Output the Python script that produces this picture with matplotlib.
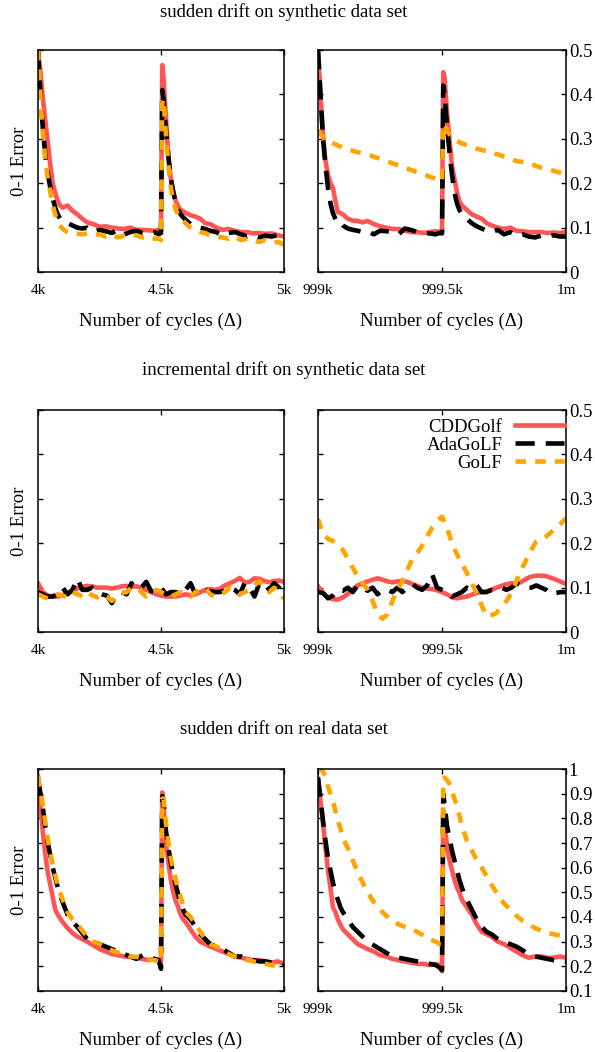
import matplotlib
matplotlib.use("Agg")
import matplotlib.pyplot as plt

plt.rcParams["font.family"] = ["Liberation Serif", "DejaVu Serif"]

# x positions (cycles after the window start)
grid_sudden = [0, 10, 20, 30, 40, 50, 60, 70, 80, 90, 100,
               120, 140, 160, 180, 200,
               225, 250, 275, 300, 325, 350, 375, 400, 425, 450, 475,
               490, 500, 505, 510,
               520, 530, 540, 550, 560, 570, 580, 590, 600,
               620, 640, 660, 680, 700,
               725, 750, 775, 800, 825, 850, 875, 900, 925, 950, 975, 1000]
grid_incr = list(range(0, 1001, 20))

methods = ["CDDGolf", "AdaGoLF", "GoLF"]
xtick_left = ["4k", "4.5k", "5k"]
xtick_right = ["999k", "999.5k", "1m"]
titles = ["sudden drift on synthetic data set",
          "incremental drift on synthetic data set",
          "sudden drift on real data set"]

# row 1: sudden drift, synthetic
syn_sud_l_cdd = [0.50, 0.45, 0.39, 0.34, 0.29, 0.24, 0.20, 0.178, 0.16, 0.15, 0.145,
                 0.15, 0.138, 0.13, 0.12, 0.112,
                 0.108, 0.102, 0.103, 0.10, 0.098, 0.097, 0.10, 0.095, 0.095, 0.094, 0.093,
                 0.095, 0.092, 0.466, 0.44,
                 0.35, 0.26, 0.21, 0.18, 0.16, 0.148, 0.14, 0.137, 0.133,
                 0.128, 0.125, 0.12, 0.11, 0.108,
                 0.10, 0.095, 0.097, 0.093, 0.09, 0.09, 0.087, 0.088, 0.086, 0.087, 0.083, 0.08]
syn_sud_l_ada = [0.50, 0.40, 0.32, 0.26, 0.22, 0.19, 0.165, 0.145, 0.13, 0.12, 0.115,
                 0.11, 0.105, 0.10, 0.098, 0.10,
                 0.09, 0.095, 0.092, 0.088, 0.095, 0.085, 0.09, 0.093, 0.088, 0.087, 0.09,
                 0.085, 0.088, 0.41, 0.39,
                 0.32, 0.26, 0.21, 0.18, 0.155, 0.14, 0.13, 0.123, 0.118,
                 0.108, 0.105, 0.10, 0.097, 0.093,
                 0.09, 0.082, 0.088, 0.09, 0.085, 0.08, 0.083, 0.078, 0.082, 0.08, 0.083, 0.08]
syn_sud_l_golf = [0.50, 0.39, 0.31, 0.25, 0.21, 0.18, 0.15, 0.13, 0.115, 0.105, 0.097,
                  0.09, 0.088, 0.086, 0.085, 0.087,
                  0.083, 0.085, 0.08, 0.084, 0.078, 0.082, 0.08, 0.083, 0.078, 0.08, 0.075,
                  0.076, 0.072, 0.38, 0.39,
                  0.31, 0.24, 0.19, 0.16, 0.14, 0.128, 0.12, 0.115, 0.11,
                  0.10, 0.095, 0.09, 0.088, 0.082,
                  0.08, 0.078, 0.075, 0.08, 0.072, 0.075, 0.07, 0.068, 0.072, 0.066, 0.068, 0.062]
syn_sud_r_cdd = [0.50, 0.40, 0.31, 0.25, 0.22, 0.20, 0.19, 0.16, 0.135, 0.133, 0.13,
                 0.12, 0.116, 0.115, 0.112, 0.115,
                 0.108, 0.103, 0.10, 0.097, 0.097, 0.093, 0.09, 0.09, 0.088, 0.09, 0.092,
                 0.09, 0.092, 0.45, 0.44,
                 0.36, 0.30, 0.24, 0.21, 0.18, 0.16, 0.15, 0.145, 0.14,
                 0.13, 0.125, 0.12, 0.11, 0.105,
                 0.10, 0.097, 0.10, 0.093, 0.092, 0.09, 0.09, 0.09, 0.088, 0.089, 0.088, 0.09]
syn_sud_r_ada = [0.50, 0.40, 0.30, 0.24, 0.19, 0.155, 0.133, 0.12, 0.11, 0.112, 0.105,
                 0.098, 0.095, 0.093, 0.09, 0.092,
                 0.085, 0.093, 0.092, 0.09, 0.085, 0.098, 0.095, 0.09, 0.088, 0.087, 0.085,
                 0.088, 0.087, 0.42, 0.40,
                 0.33, 0.27, 0.22, 0.18, 0.155, 0.14, 0.13, 0.125, 0.12,
                 0.11, 0.103, 0.098, 0.093, 0.09,
                 0.095, 0.085, 0.09, 0.082, 0.085, 0.08, 0.078, 0.082, 0.08, 0.083, 0.08, 0.08]
syn_sud_r_golf = [0.32, 0.31, 0.305, 0.30, 0.297, 0.293, 0.29, 0.288, 0.285, 0.283, 0.28,
                  0.277, 0.273, 0.27, 0.268, 0.265,
                  0.26, 0.255, 0.25, 0.245, 0.24, 0.235, 0.23, 0.225, 0.22, 0.215, 0.21,
                  0.208, 0.205, 0.33, 0.335,
                  0.32, 0.31, 0.303, 0.298, 0.295, 0.292, 0.29, 0.288, 0.285,
                  0.282, 0.278, 0.275, 0.272, 0.268,
                  0.265, 0.26, 0.255, 0.25, 0.248, 0.245, 0.24, 0.235, 0.232, 0.228, 0.224, 0.22]

# row 2: incremental drift, synthetic
syn_inc_l_cdd = [0.11, 0.09, 0.082, 0.08, 0.08, 0.083, 0.088, 0.093, 0.098, 0.102, 0.104,
                 0.103, 0.10, 0.10, 0.10, 0.098, 0.10, 0.103, 0.104, 0.102, 0.103,
                 0.10, 0.095, 0.09, 0.085, 0.082, 0.08, 0.08, 0.08, 0.082, 0.085,
                 0.083, 0.085, 0.09, 0.095, 0.097, 0.095, 0.098, 0.105, 0.11, 0.115,
                 0.122, 0.112, 0.113, 0.121, 0.12, 0.115, 0.112, 0.115, 0.116, 0.113]
syn_inc_l_ada = [0.09, 0.085, 0.08, 0.08, 0.085, 0.10, 0.085, 0.095, 0.12, 0.095, 0.095,
                 0.10, 0.09, 0.085, 0.082, 0.065, 0.085, 0.09, 0.085, 0.11, 0.098,
                 0.10, 0.113, 0.092, 0.09, 0.10, 0.085, 0.09, 0.09, 0.085, 0.095,
                 0.11, 0.085, 0.09, 0.095, 0.092, 0.09, 0.09, 0.095, 0.10, 0.095,
                 0.085, 0.11, 0.10, 0.08, 0.11, 0.11, 0.095, 0.11, 0.10, 0.085]
syn_inc_l_golf = [0.085, 0.08, 0.075, 0.08, 0.085, 0.082, 0.078, 0.09, 0.085, 0.08, 0.09,
                  0.083, 0.078, 0.085, 0.08, 0.07, 0.078, 0.088, 0.09, 0.10, 0.10,
                  0.09, 0.08, 0.088, 0.095, 0.09, 0.085, 0.08, 0.085, 0.09, 0.085,
                  0.08, 0.09, 0.095, 0.10, 0.085, 0.08, 0.085, 0.09, 0.10, 0.095,
                  0.085, 0.09, 0.095, 0.105, 0.115, 0.10, 0.09, 0.10, 0.09, 0.075]
syn_inc_r_cdd = [0.103, 0.088, 0.078, 0.074, 0.073, 0.078, 0.086, 0.096, 0.105, 0.11, 0.114,
                 0.118, 0.121, 0.118, 0.114, 0.112, 0.114, 0.115, 0.113, 0.108, 0.104,
                 0.10, 0.098, 0.097, 0.094, 0.09, 0.085, 0.078, 0.076, 0.078, 0.08,
                 0.084, 0.088, 0.09, 0.092, 0.095, 0.10, 0.104, 0.108, 0.11, 0.108,
                 0.113, 0.12, 0.125, 0.127, 0.127, 0.126, 0.122, 0.118, 0.113, 0.108]
syn_inc_r_ada = [0.09, 0.088, 0.076, 0.082, 0.095, 0.093, 0.10, 0.09, 0.105, 0.10, 0.093,
                 0.10, 0.085, 0.095, 0.095, 0.09, 0.10, 0.09, 0.10, 0.108, 0.10,
                 0.095, 0.105, 0.13, 0.10, 0.095, 0.09, 0.08, 0.085, 0.09, 0.10,
                 0.095, 0.105, 0.09, 0.09, 0.095, 0.095, 0.10, 0.095, 0.10, 0.11,
                 0.105, 0.10, 0.10, 0.105, 0.10, 0.095, 0.085, 0.088, 0.09, 0.09]
syn_inc_r_golf = [0.255, 0.22, 0.21, 0.205, 0.195, 0.185, 0.165, 0.145, 0.125, 0.11, 0.095,
                  0.07, 0.04, 0.03, 0.04, 0.07, 0.095, 0.115, 0.14, 0.165, 0.178,
                  0.195, 0.215, 0.235, 0.25, 0.26, 0.235, 0.20, 0.175, 0.155, 0.133,
                  0.11, 0.088, 0.06, 0.035, 0.038, 0.043, 0.058, 0.07, 0.088, 0.115,
                  0.14, 0.163, 0.185, 0.204, 0.21, 0.215, 0.225, 0.234, 0.245, 0.256]

# row 3: sudden drift, real data
real_sud_l_cdd = [0.97, 0.85, 0.74, 0.65, 0.58, 0.53, 0.48, 0.43, 0.41, 0.395, 0.38,
                  0.355, 0.335, 0.32, 0.31, 0.30,
                  0.285, 0.27, 0.26, 0.25, 0.245, 0.24, 0.238, 0.235, 0.23, 0.225, 0.23,
                  0.22, 0.215, 0.905, 0.86,
                  0.70, 0.62, 0.55, 0.50, 0.465, 0.44, 0.41, 0.39, 0.38,
                  0.35, 0.32, 0.30, 0.29, 0.28,
                  0.27, 0.26, 0.25, 0.24, 0.235, 0.23, 0.225, 0.225, 0.22, 0.215, 0.22, 0.21]
real_sud_l_ada = [0.96, 0.90, 0.84, 0.76, 0.70, 0.65, 0.60, 0.56, 0.52, 0.49, 0.46,
                  0.41, 0.38, 0.36, 0.335, 0.31,
                  0.30, 0.29, 0.28, 0.27, 0.26, 0.25, 0.24, 0.23, 0.245, 0.235, 0.23,
                  0.225, 0.19, 0.89, 0.87,
                  0.75, 0.68, 0.62, 0.57, 0.53, 0.49, 0.46, 0.43, 0.41,
                  0.39, 0.36, 0.33, 0.31, 0.29,
                  0.28, 0.27, 0.255, 0.24, 0.24, 0.23, 0.225, 0.22, 0.22, 0.215, 0.21, 0.205]
real_sud_l_golf = [0.97, 0.91, 0.85, 0.78, 0.71, 0.66, 0.61, 0.57, 0.53, 0.50, 0.47,
                   0.42, 0.39, 0.37, 0.345, 0.32,
                   0.30, 0.29, 0.275, 0.265, 0.255, 0.25, 0.24, 0.238, 0.235, 0.228, 0.225,
                   0.22, 0.215, 0.88, 0.88,
                   0.78, 0.70, 0.64, 0.59, 0.55, 0.51, 0.48, 0.45, 0.42,
                   0.40, 0.37, 0.34, 0.31, 0.29,
                   0.28, 0.265, 0.25, 0.24, 0.235, 0.225, 0.22, 0.215, 0.21, 0.205, 0.20, 0.19]
real_sud_r_cdd = [0.96, 0.87, 0.78, 0.68, 0.59, 0.52, 0.44, 0.42, 0.39, 0.37, 0.35,
                  0.33, 0.31, 0.29, 0.28, 0.27,
                  0.26, 0.245, 0.24, 0.23, 0.225, 0.22, 0.215, 0.21, 0.21, 0.205, 0.21,
                  0.205, 0.18, 0.83, 0.78,
                  0.69, 0.63, 0.59, 0.55, 0.52, 0.50, 0.47, 0.455, 0.44,
                  0.41, 0.37, 0.34, 0.33, 0.32,
                  0.30, 0.29, 0.275, 0.26, 0.245, 0.235, 0.24, 0.24, 0.235, 0.235, 0.24, 0.235]
real_sud_r_ada = [0.965, 0.88, 0.79, 0.71, 0.64, 0.59, 0.54, 0.50, 0.47, 0.44, 0.42,
                  0.39, 0.36, 0.34, 0.32, 0.30,
                  0.285, 0.27, 0.255, 0.24, 0.235, 0.23, 0.225, 0.22, 0.215, 0.21, 0.205,
                  0.195, 0.185, 0.90, 0.86,
                  0.77, 0.72, 0.67, 0.63, 0.59, 0.55, 0.52, 0.49, 0.47,
                  0.43, 0.39, 0.36, 0.34, 0.33,
                  0.31, 0.30, 0.29, 0.28, 0.265, 0.25, 0.24, 0.235, 0.23, 0.225, 0.225, 0.22]
real_sud_r_golf = [1.0, 1.0, 0.99, 0.97, 0.93, 0.90, 0.87, 0.83, 0.79, 0.76, 0.72,
                   0.68, 0.63, 0.58, 0.54, 0.50,
                   0.46, 0.43, 0.405, 0.385, 0.37, 0.36, 0.35, 0.34, 0.325, 0.31, 0.30,
                   0.29, 0.29, 0.96, 0.965,
                   0.955, 0.94, 0.91, 0.88, 0.85, 0.81, 0.77, 0.74, 0.71,
                   0.67, 0.63, 0.60, 0.565, 0.53,
                   0.49, 0.455, 0.43, 0.405, 0.385, 0.37, 0.355, 0.345, 0.335, 0.33, 0.325, 0.32]

styles = {
    "CDDGolf": dict(color="#ff5555", lw=3.3, ls="-"),
    "AdaGoLF": dict(color="black", lw=3.3, ls=(0, (4.2, 2.4))),
    "GoLF": dict(color="#ffa500", lw=3.3, ls=(0, (2.3, 2.0))),
}

rows = [
    dict(bottom=0.7414, title_y=0.9886, ylim=(0, 0.5),
         yticks=[0, 0.1, 0.2, 0.3, 0.4, 0.5], ylabels=["0", "0.1", "0.2", "0.3", "0.4", "0.5"],
         grid=grid_sudden,
         left=[syn_sud_l_cdd, syn_sud_l_ada, syn_sud_l_golf],
         right=[syn_sud_r_cdd, syn_sud_r_ada, syn_sud_r_golf]),
    dict(bottom=0.3992, title_y=0.6483, ylim=(0, 0.5),
         yticks=[0, 0.1, 0.2, 0.3, 0.4, 0.5], ylabels=["0", "0.1", "0.2", "0.3", "0.4", "0.5"],
         grid=grid_incr,
         left=[syn_inc_l_cdd, syn_inc_l_ada, syn_inc_l_golf],
         right=[syn_inc_r_cdd, syn_inc_r_ada, syn_inc_r_golf]),
    dict(bottom=0.058, title_y=0.307, ylim=(0.1, 1.0),
         yticks=[0.1, 0.2, 0.3, 0.4, 0.5, 0.6, 0.7, 0.8, 0.9, 1.0],
         ylabels=["0.1", "0.2", "0.3", "0.4", "0.5", "0.6", "0.7", "0.8", "0.9", "1"],
         grid=grid_sudden,
         left=[real_sud_l_cdd, real_sud_l_ada, real_sud_l_golf],
         right=[real_sud_r_cdd, real_sud_r_ada, real_sud_r_golf]),
]

FS = 13.5

fig = plt.figure(figsize=(5.95, 10.52), dpi=100)

for r, row in enumerate(rows):
    fig.text(0.4765, row["title_y"], titles[r], ha="center", va="center", fontsize=FS)
    for side in ("left", "right"):
        if side == "left":
            rect = [0.0639, row["bottom"], 0.4134, 0.211]
            start, xt = 4000, xtick_left
        else:
            rect = [0.5345, row["bottom"], 0.4168, 0.211]
            start, xt = 999000, xtick_right
        ax = fig.add_axes(rect)
        x = [start + g for g in row["grid"]]
        for name, ys in zip(methods, row[side]):
            ax.plot(x, ys, label=name, **styles[name])
        ax.set_xlim(start, start + 1000)
        ax.set_ylim(*row["ylim"])
        ax.set_xticks([start, start + 500, start + 1000])
        ax.set_xticklabels(xt, fontsize=11)
        ax.set_yticks(row["yticks"])
        ax.tick_params(direction="in", length=3.6, width=1.0, top=True, right=True,
                       left=True, bottom=True)
        ax.tick_params(axis="x", pad=8.5)
        if side == "left":
            ax.set_yticklabels([])
            ax.set_ylabel("0-1 Error", fontsize=FS, labelpad=4)
        else:
            ax.yaxis.tick_right()
            ax.tick_params(axis="y", left=True, right=True, direction="in", length=3.6,
                           labelsize=FS, pad=2)
            ax.set_yticklabels(row["ylabels"])
            if r == 1:
                ax.legend(loc="upper right", bbox_to_anchor=(1.0, 0.97), frameon=False,
                          markerfirst=False, fontsize=FS, handlelength=2.6,
                          handletextpad=0.7, labelspacing=0.05,
                          borderaxespad=0.0, borderpad=0.1)
        ax.set_xlabel("Number of cycles (\u0394)", fontsize=FS, labelpad=11)
        for s in ax.spines.values():
            s.set_linewidth(1.1)

fig.savefig("out.png", dpi=100)
